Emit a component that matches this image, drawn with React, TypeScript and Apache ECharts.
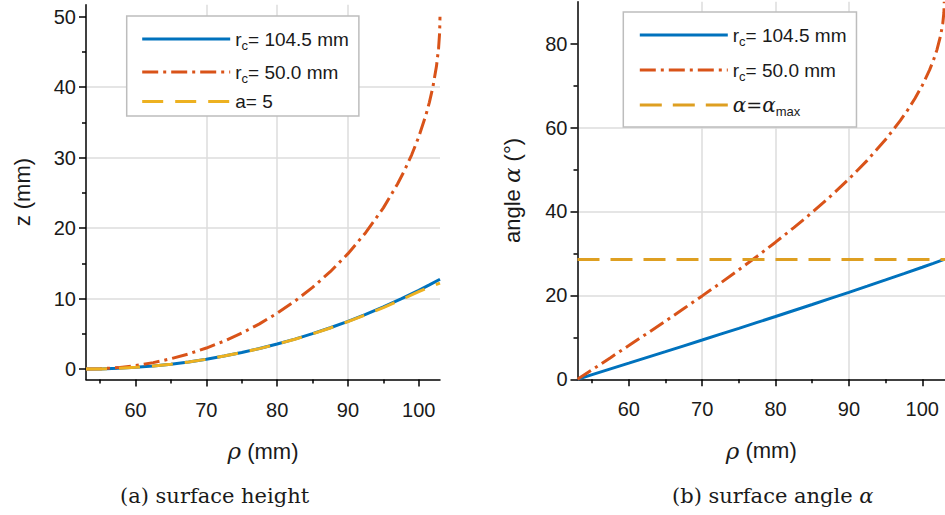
import React, { useEffect, useRef } from 'react';
import * as echarts from 'echarts';

// rho (mm) sample positions
const rhoA = [53, 55, 57.5, 60, 62.5, 65, 67.5, 70, 72.5, 75, 77.5, 80, 82.5, 85, 87.5, 90, 92.5, 95, 97.5, 100, 101.5, 103];
const rhoB = [53, 55, 57.5, 60, 62.5, 65, 67.5, 70, 72.5, 75, 77.5, 80, 82.5, 85, 87.5, 90, 92.5, 95, 97, 98, 99, 100, 101, 101.5, 102, 102.5, 102.8, 102.95, 103];
const rhoLine = [53, 103.1];

// (a) surface height z (mm)
const zBlue = [0, 0.02, 0.1, 0.24, 0.43, 0.69, 1.01, 1.39, 1.84, 2.34, 2.91, 3.55, 4.25, 5.02, 5.86, 6.77, 7.75, 8.81, 9.95, 11.17, 11.94, 12.74];
const zYellow = [0, 0.02, 0.1, 0.24, 0.43, 0.69, 1.01, 1.39, 1.84, 2.34, 2.9, 3.54, 4.23, 4.99, 5.82, 6.72, 7.68, 8.72, 9.82, 10.98, 11.62, 12.2];
const zOrange = [0, 0.04, 0.2, 0.49, 0.91, 1.46, 2.15, 2.98, 3.96, 5.1, 6.41, 7.92, 9.63, 11.58, 13.81, 16.37, 19.35, 22.87, 26.25, 28.21, 30.4, 32.94, 36, 37.85, 40.05, 42.95, 45.53, 47.76, 50];

// (b) surface angle alpha (deg)
const aBlue = [0, 1.1, 2.47, 3.84, 5.22, 6.59, 7.98, 9.36, 10.76, 12.15, 13.56, 14.97, 16.4, 17.83, 19.28, 20.73, 22.2, 23.69, 25.19, 26.71, 27.64, 28.58];
const aOrange = [0, 2.29, 5.16, 8.05, 10.95, 13.89, 16.86, 19.88, 22.95, 26.1, 29.34, 32.68, 36.16, 39.79, 43.63, 47.73, 52.19, 57.14, 61.64, 64.16, 66.93, 70.05, 73.74, 75.93, 78.52, 81.89, 84.87, 87.44, 90];
const aMax = [28.58, 28.58];

// tick labels
const xTicks = [60, 70, 80, 90, 100];
const zTicks = [0, 10, 20, 30, 40, 50];
const aTicks = [0, 20, 40, 60, 80];

const BLUE = '#0072BD';
const ORANGE = '#D95319';
const YELLOW = '#EDB120';
const GOLD = '#DE9F21';
const SANS = 'Liberation Sans, Arial, sans-serif';
const SERIF = 'DejaVu Serif, serif';
const TXT = '#1a1a1a';

const zip = (xs: number[], ys: number[]) => xs.map((x, i) => [x, ys[i]]);

const richStyles = {
  n: { fontSize: 19, fontFamily: SANS, lineHeight: 26, color: TXT },
  s: { fontSize: 13, fontFamily: SANS, lineHeight: 13, padding: [13, 0, 0, 0], color: TXT },
  gi: { fontSize: 20, fontFamily: SERIF, fontStyle: 'italic', lineHeight: 26, color: TXT },
  g: { fontSize: 19, fontFamily: SERIF, lineHeight: 26, color: TXT },
};

const legendLabel = (name: string) => {
  if (name === 'rc104') return '{n|r}{s|c}{n|= 104.5 mm}';
  if (name === 'rc50') return '{n|r}{s|c}{n|= 50.0 mm}';
  if (name === 'a5') return '{n|a= 5}';
  return '{gi|α}{g|=}{gi|α}{s|max}';
};

const NAME_SIZE = 22;

const axisCommon = (labels: number[]) => ({
  type: 'value' as const,
  axisLine: { show: true, onZero: false, lineStyle: { color: '#000', width: 1.5 } },
  axisTick: { show: true, inside: false, length: 7, customValues: labels, lineStyle: { color: '#000', width: 1.5 } },
  minorTick: { show: true, splitNumber: 2, length: 4, lineStyle: { color: '#000', width: 1.5 } },
  splitLine: { show: true, showMinLine: false, showMaxLine: false, lineStyle: { color: '#dcdcdc', width: 1.5 } },
  axisLabel: { customValues: labels, fontSize: 20, fontFamily: SANS, color: TXT },
  nameTextStyle: {
    fontSize: NAME_SIZE,
    fontFamily: SANS,
    color: TXT,
    rich: {
      t: { fontSize: NAME_SIZE, fontFamily: SANS, color: TXT },
      i: { fontSize: NAME_SIZE + 1, fontFamily: SERIF, fontStyle: 'italic', color: TXT },
    },
  },
});

export default function App() {
  const ref = useRef<HTMLDivElement>(null);

  useEffect(() => {
    if (!ref.current) return;
    const chart = echarts.init(ref.current, undefined, { renderer: 'svg' });

    const legendBase = {
      orient: 'vertical' as const,
      itemWidth: 88,
      itemHeight: 14,
      backgroundColor: '#fff',
      borderColor: '#bdbdbd',
      borderWidth: 1.5,
      borderRadius: 0,
      selectedMode: false,
      itemStyle: { opacity: 0 },
      lineStyle: { width: 3 },
      formatter: legendLabel,
      textStyle: { fontSize: 19, fontFamily: SANS, color: TXT, rich: richStyles },
    };

    chart.setOption({
      animation: false,
      backgroundColor: '#fff',
      grid: [
        { left: 86, top: 4.7, width: 354, height: 374.9 },
        { left: 577.5, top: 1.7, width: 368, height: 377.6 },
      ],
      xAxis: [
        {
          ...axisCommon(xTicks),
          gridIndex: 0,
          min: 53,
          max: 103,
          axisLabel: { ...axisCommon(xTicks).axisLabel, margin: 20 },
          name: '{i|ρ}{t| (mm)}',
          nameLocation: 'middle',
          nameGap: 60,
        },
        {
          ...axisCommon(xTicks),
          gridIndex: 1,
          min: 53,
          max: 103.1,
          axisLabel: { ...axisCommon(xTicks).axisLabel, margin: 20 },
          name: '{i|ρ}{t| (mm)}',
          nameLocation: 'middle',
          nameGap: 60,
        },
      ],
      yAxis: [
        {
          ...axisCommon(zTicks),
          gridIndex: 0,
          min: -1.5,
          max: 51.7,
          axisLabel: { ...axisCommon(zTicks).axisLabel, margin: 10 },
          name: '{t|z (mm)}',
          nameLocation: 'middle',
          nameRotate: 90,
          nameGap: 53,
        },
        {
          ...axisCommon(aTicks),
          gridIndex: 1,
          min: 0,
          max: 90,
          axisLabel: { ...axisCommon(aTicks).axisLabel, margin: 10 },
          name: '{t|angle }{i|α}{t| (°)}',
          nameLocation: 'middle',
          nameRotate: 90,
          nameGap: 54,
        },
      ],
      legend: [
        {
          ...legendBase,
          left: 126.7,
          top: 16,
          padding: [10, 10, 5, 14],
          itemGap: 7,
          data: ['rc104', 'rc50', 'a5'],
        },
        {
          ...legendBase,
          left: 623.3,
          top: 12,
          padding: [10, 10, 9, 15],
          itemGap: 9,
          data: ['rc104', 'rc50', 'amax'],
        },
      ],
      series: [
        {
          type: 'line', name: 'rc104', xAxisIndex: 0, yAxisIndex: 0, data: zip(rhoA, zBlue),
          symbol: 'none', itemStyle: { color: BLUE }, lineStyle: { color: BLUE, width: 3 },
        },
        {
          type: 'line', name: 'rc50', xAxisIndex: 0, yAxisIndex: 0, data: zip(rhoB, zOrange),
          symbol: 'none', itemStyle: { color: ORANGE }, lineStyle: { color: ORANGE, width: 3, type: [16, 5, 3, 5] },
        },
        {
          type: 'line', name: 'a5', xAxisIndex: 0, yAxisIndex: 0, data: zip(rhoA, zYellow),
          symbol: 'none', itemStyle: { color: YELLOW }, lineStyle: { color: YELLOW, width: 3, type: [21, 12] },
        },
        {
          type: 'line', name: 'rc104', xAxisIndex: 1, yAxisIndex: 1, data: zip(rhoA, aBlue),
          symbol: 'none', itemStyle: { color: BLUE }, lineStyle: { color: BLUE, width: 3 },
        },
        {
          type: 'line', name: 'rc50', xAxisIndex: 1, yAxisIndex: 1, data: zip(rhoB, aOrange),
          symbol: 'none', itemStyle: { color: ORANGE }, lineStyle: { color: ORANGE, width: 3, type: [16, 5, 3, 5] },
        },
        {
          type: 'line', name: 'amax', xAxisIndex: 1, yAxisIndex: 1, data: zip(rhoLine, aMax),
          symbol: 'none', itemStyle: { color: GOLD }, lineStyle: { color: GOLD, width: 3, type: [22, 11] },
        },
      ],
      graphic: [
        {
          type: 'text',
          left: 120,
          top: 485,
          style: {
            text: '(a) surface height',
            font: `21px ${SERIF}`,
            fill: TXT,
          },
        },
        {
          type: 'text',
          left: 672,
          top: 485,
          style: {
            text: '(b) surface angle {i|α}',
            font: `21px ${SERIF}`,
            fill: TXT,
            rich: { i: { fontSize: 21, fontFamily: SERIF, fontStyle: 'italic' } },
          },
        },
      ],
    });

    return () => chart.dispose();
  }, []);

  return (
    <div
      ref={ref}
      style={{ position: 'absolute', left: 0, top: 0, width: 945, height: 515, background: '#fff' }}
    />
  );
}
